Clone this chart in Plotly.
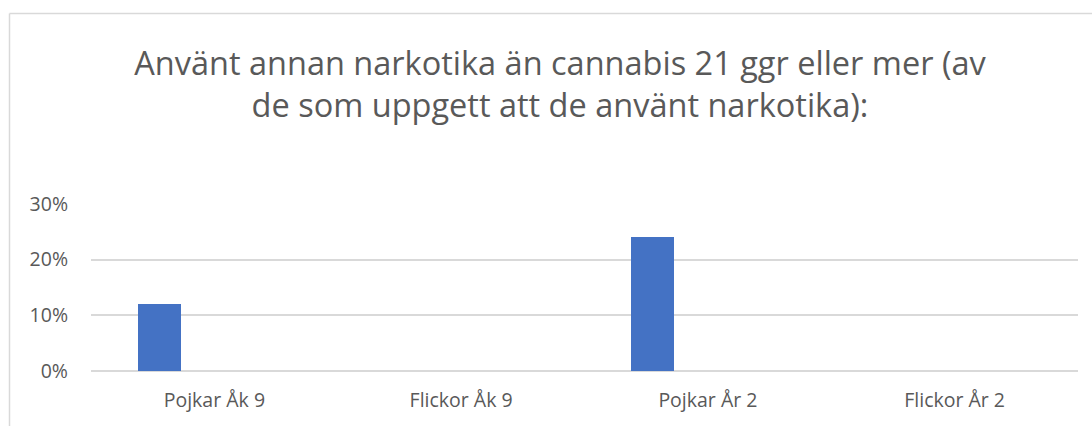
import plotly.graph_objects as go

categories = ["Pojkar Åk 9", "Flickor Åk 9", "Pojkar År 2", "Flickor År 2"]
values = [0.12, None, 0.24, None]
y_ticks = [0, 0.1, 0.2, 0.3]
y_tick_labels = ["0%", "10%", "20%", "30%"]
title_text = "Använt annan narkotika än cannabis 21 ggr eller mer (av<br>de som uppgett att de använt narkotika):"

W, H = 1092, 426
L, R, T, B = 91, 1078, 204, 371
FONT = "Open Sans, Lato, sans-serif"

fig = go.Figure()
fig.add_trace(go.Bar(
    x=categories, y=values,
    marker=dict(color="#4472c4", line=dict(width=0)),
    width=0.174, offset=-0.31,
    hoverinfo="x+y",
))

gray = "#595959"
fig.update_layout(
    width=W, height=H,
    margin=dict(l=L, r=W - R, t=T, b=H - B, pad=0),
    paper_bgcolor="white", plot_bgcolor="white",
    showlegend=False,
    font=dict(family=FONT, color=gray),
    title=dict(text=title_text, x=560 / W, xanchor="center", y=1 - 75 / H, yanchor="middle",
               font=dict(size=32.5, color=gray, family=FONT)),
    xaxis=dict(showgrid=False, showline=False, zeroline=False, ticks="",
               ticklabelstandoff=15,
               tickfont=dict(size=19.5, color=gray), fixedrange=True),
    yaxis=dict(range=[0, 0.30], tickvals=y_ticks, ticktext=y_tick_labels,
               showgrid=True, gridcolor="#d9d9d9", gridwidth=1.5,
               zeroline=True, zerolinecolor="#d9d9d9", zerolinewidth=1.5,
               showline=False, ticks="", ticklabelstandoff=22,
               tickfont=dict(size=19.5, color=gray), fixedrange=True),
    bargap=0,
)

# chart-area border (partially visible in the reference)
bx = (9.5 - L) / (R - L)
by = (B - 13.5) / (B - T)
fig.add_shape(type="line", xref="paper", yref="paper", x0=bx, x1=bx, y0=by, y1=-1,
              line=dict(color="#d9d9d9", width=1.5))
fig.add_shape(type="line", xref="paper", yref="paper", x0=bx, x1=1.2, y0=by, y1=by,
              line=dict(color="#d9d9d9", width=1.5))

fig.write_html("out.html", config={"displayModeBar": False},
               post_script="document.body.style.margin='0';")
